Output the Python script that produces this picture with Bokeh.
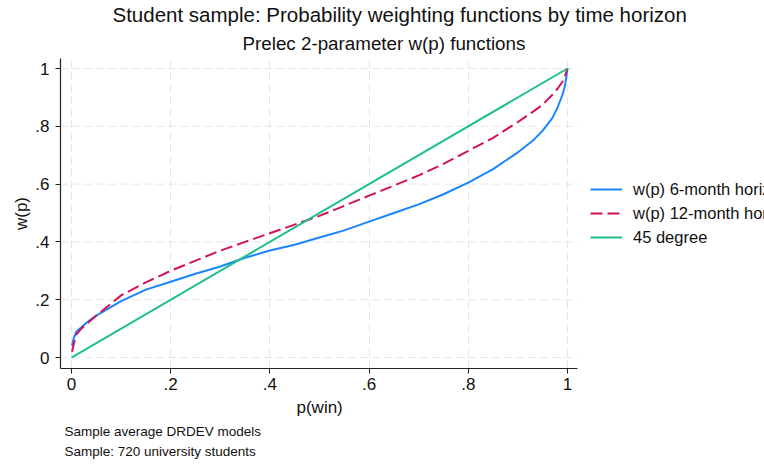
from bokeh.plotting import figure
from bokeh.models import Range1d, FixedTicker, Legend, LegendItem, Title
from bokeh.embed import file_html
from bokeh.resources import INLINE

# ---- data ----
p_win = [0.001, 0.005, 0.01, 0.02, 0.03, 0.05, 0.075, 0.1, 0.15, 0.2, 0.25, 0.3,
         0.35, 0.4, 0.45, 0.5, 0.55, 0.6, 0.65, 0.7, 0.75, 0.8, 0.85, 0.9,
         0.93, 0.95, 0.97, 0.98, 0.99, 0.995, 1.0]
w_6month = [0.04, 0.07, 0.09, 0.105, 0.12, 0.145, 0.17, 0.195, 0.235, 0.262, 0.29, 0.315,
            0.345, 0.37, 0.39, 0.415, 0.44, 0.47, 0.50, 0.53, 0.565, 0.605, 0.652, 0.71,
            0.75, 0.785, 0.83, 0.865, 0.91, 0.94, 1.0]
w_12month = [0.02, 0.05, 0.08, 0.10, 0.115, 0.145, 0.18, 0.215, 0.26, 0.30, 0.335, 0.37,
             0.40, 0.43, 0.46, 0.49, 0.525, 0.56, 0.595, 0.63, 0.67, 0.715, 0.76, 0.815,
             0.85, 0.875, 0.91, 0.93, 0.955, 0.975, 1.0]
deg45_p = [0.0, 1.0]
deg45_w = [0.0, 1.0]

tick_values = [0, 0.2, 0.4, 0.6, 0.8, 1]
tick_labels = ["0", ".2", ".4", ".6", ".8", "1"]

series_names = ["w(p) 6-month horizon", "w(p) 12-month horizon", "45 degree"]
title_text = "Student sample: Probability weighting functions by time horizon"
subtitle_text = "Prelec 2-parameter w(p) functions"
x_title = "p(win)"
y_title = "w(p)"
note_lines = ["Sample average DRDEV models", "Sample: 720 university students"]

FONT = "Liberation Sans"
BLUE = "#1a85ff"
RED = "#d41159"
GREEN = "#1fc08a"
TXT = "#111111"

X_LO, X_HI = -0.0222, 1.0202      # extent of the plot region (axis lines)
Y_LO, Y_HI = -0.038, 1.0346

p = figure(width=764, height=467, output_backend="svg", toolbar_location=None,
           x_range=Range1d(X_LO, 1.3972), y_range=Range1d(Y_LO, Y_HI),
           min_border_left=60, min_border_right=0, min_border_top=58, min_border_bottom=99)
p.outline_line_color = None
p.background_fill_color = "white"
p.border_fill_color = "white"

# horizontal grid lines limited to the plot region
p.segment(x0=[X_LO] * len(tick_values), x1=[X_HI] * len(tick_values),
          y0=tick_values, y1=tick_values,
          line_color="#e6e6e6", line_width=1, line_dash="8 4")
p.ygrid.visible = False
p.xgrid.ticker = FixedTicker(ticks=tick_values)
p.xgrid.grid_line_color = "#e6e6e6"
p.xgrid.grid_line_dash = "8 4"

r1 = p.line(p_win, w_6month, line_color=BLUE, line_width=2)
r2 = p.line(p_win, w_12month, line_color=RED, line_width=2, line_dash="12 5")
r3 = p.line(deg45_p, deg45_w, line_color=GREEN, line_width=2)

for ax in (p.xaxis[0], p.yaxis[0]):
    ax.ticker = FixedTicker(ticks=tick_values)
    ax.major_label_overrides = dict(zip(tick_values, tick_labels))
    ax.major_tick_out = 5
    ax.major_tick_in = 0
    ax.minor_tick_out = 0
    ax.minor_tick_in = 0
    ax.axis_line_color = "#222222"
    ax.axis_line_width = 1.2
    ax.major_tick_line_color = "#222222"
    ax.major_label_text_font = FONT
    ax.major_label_text_font_size = "17px"
    ax.major_label_text_color = TXT
    ax.axis_label_text_font = FONT
    ax.axis_label_text_font_size = "17px"
    ax.axis_label_text_font_style = "normal"
    ax.axis_label_text_color = TXT

p.xaxis.bounds = (X_LO, X_HI)
p.xaxis.major_label_standoff = 4
p.yaxis.axis_label = y_title
p.yaxis.major_label_standoff = 6
p.yaxis.axis_label_standoff = 1
p.yaxis.major_label_orientation = "horizontal"

legend = Legend(items=[LegendItem(label=series_names[0], renderers=[r1]),
                       LegendItem(label=series_names[1], renderers=[r2]),
                       LegendItem(label=series_names[2], renderers=[r3])],
                location=(530, 121), padding=0, margin=0, spacing=4,
                glyph_width=32, glyph_height=20, label_height=20, label_standoff=11,
                label_text_font=FONT, label_text_font_size="16.5px", label_text_color=TXT,
                border_line_color=None, background_fill_alpha=0)
p.add_layout(legend)

# titles above (first added is nearest to the plot)
p.add_layout(Title(text=subtitle_text, align="left", offset=182, text_font=FONT,
                   text_font_size="18.8px", text_font_style="normal", text_color=TXT,
                   standoff=9), "above")
p.add_layout(Title(text=title_text, align="left", offset=52, text_font=FONT,
                   text_font_size="20.5px", text_font_style="normal", text_color=TXT,
                   standoff=1), "above")

# x-axis title and notes below
p.add_layout(Title(text=x_title, align="left", offset=236, text_font=FONT,
                   text_font_size="17px", text_font_style="normal", text_color=TXT,
                   standoff=7), "below")
for line in note_lines:
    p.add_layout(Title(text=line, align="left", offset=4, text_font=FONT,
                       text_font_size="13.5px", text_font_style="normal", text_color=TXT,
                       standoff=3), "below")

open("out.html", "w").write(file_html(p, INLINE))
